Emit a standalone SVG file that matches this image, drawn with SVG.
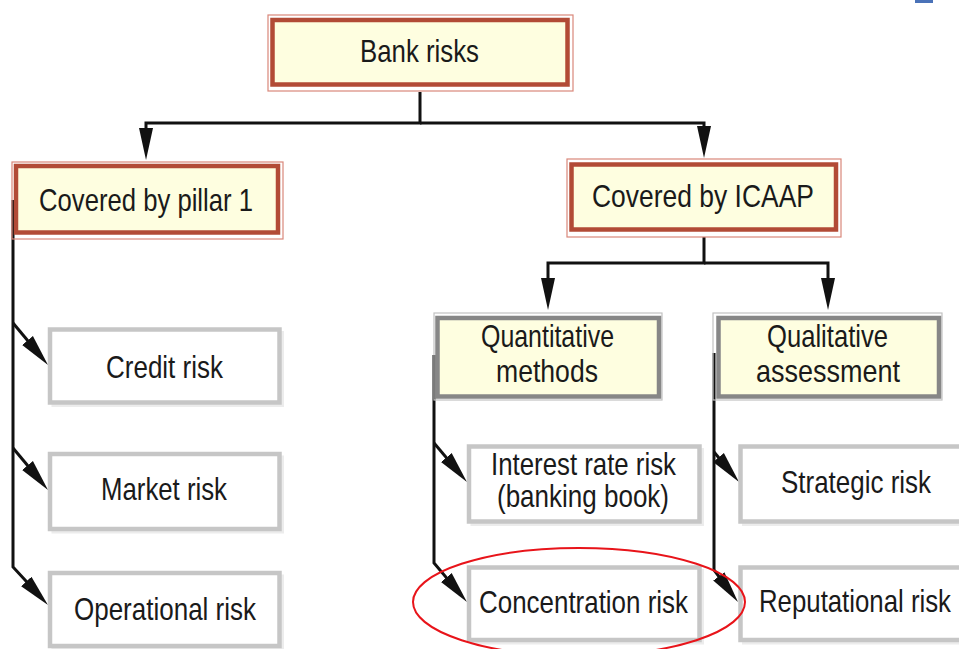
<svg xmlns="http://www.w3.org/2000/svg" width="959" height="649" viewBox="0 0 959 649">
  <style>
    .lbl { font-family: "Liberation Sans", Arial, Helvetica, sans-serif; font-size: 32px; fill: #1a1a1a; }
    .outer-red { fill: none; stroke: #d9877a; stroke-width: 1.2; }
    .inner-red { fill: #fefee0; stroke: #b24b36; stroke-width: 4.5; }
    .outer-gray { fill: none; stroke: #c2c2c2; stroke-width: 1.2; }
    .inner-gray { fill: #fefee0; stroke: #878787; stroke-width: 4.5; }
    .leaf { fill: #ffffff; stroke: #c6c6c6; stroke-width: 4.5; }
    .leaf-shadow { fill: none; stroke: #ececec; stroke-width: 3; }
    .conn { fill: none; stroke: #111111; stroke-width: 3; marker-end: url(#arrow); }
    .plain { fill: none; stroke: #111111; stroke-width: 3; }
  </style>
  <defs>
    <marker id="arrow" markerUnits="userSpaceOnUse" markerWidth="34" markerHeight="16" viewBox="0 -8 34 16" refX="22" refY="0" orient="auto">
      <path d="M0,-7 L32,0 L0,7 z" fill="#111111"/>
    </marker>
  </defs>

  <rect x="0" y="0" width="959" height="649" fill="#ffffff"/>
  <rect x="915" y="0" width="18" height="3" fill="#4a72b8"/>

  <!-- connectors -->
  <g id="connectors">
    <path class="conn" d="M420,92 V123 H146 V150"/>
    <path class="conn" d="M420,123 H704 V148"/>
    <path class="conn" d="M704,237 V263 H548 V300"/>
    <path class="conn" d="M704,263 H828 V300"/>

    <path class="conn" d="M13,200 V567 L41.2,597.6"/>
    <path class="conn" d="M13,323 L41.6,357.3"/>
    <path class="conn" d="M13,448 L41.6,482.3"/>

    <path class="conn" d="M434,355 V563 L460.5,594.4"/>
    <path class="conn" d="M434,443 L460.5,474.4"/>

    <path class="conn" d="M714,353 V570 L732,594"/>
    <path class="conn" d="M714,452 L732.6,474.3"/>
  </g>

  <g id="bank-risks">
    <rect class="outer-red" x="268" y="15" width="305" height="76"/>
    <rect class="inner-red" x="272.5" y="20" width="295" height="64.5"/>
    <text class="lbl" x="360" y="62" textLength="119" lengthAdjust="spacingAndGlyphs">Bank risks</text>
  </g>

  <g id="pillar1">
    <rect class="outer-red" x="12" y="162" width="271" height="77"/>
    <rect class="inner-red" x="16" y="166" width="262" height="66.5"/>
    <text class="lbl" x="39" y="211" textLength="214" lengthAdjust="spacingAndGlyphs">Covered by pillar 1</text>
  </g>

  <g id="icaap">
    <rect class="outer-red" x="567" y="159" width="274" height="78"/>
    <rect class="inner-red" x="571.5" y="164.5" width="264.5" height="65"/>
    <text class="lbl" x="592" y="207" textLength="222" lengthAdjust="spacingAndGlyphs">Covered by ICAAP</text>
  </g>

  <g id="quantitative">
    <rect class="outer-gray" x="434" y="313" width="228" height="87"/>
    <rect class="inner-gray" x="437.5" y="318" width="221.5" height="78.5"/>
    <text class="lbl" x="481" y="347" textLength="133" lengthAdjust="spacingAndGlyphs">Quantitative</text>
    <text class="lbl" x="496" y="382" textLength="102" lengthAdjust="spacingAndGlyphs">methods</text>
  </g>

  <g id="qualitative">
    <rect class="outer-gray" x="713" y="313" width="229" height="87"/>
    <rect class="inner-gray" x="718.5" y="318" width="220.5" height="78.5"/>
    <text class="lbl" x="767" y="347" textLength="121" lengthAdjust="spacingAndGlyphs">Qualitative</text>
    <text class="lbl" x="756" y="382" textLength="144" lengthAdjust="spacingAndGlyphs">assessment</text>
  </g>

  <g id="credit-risk">
    <rect class="leaf-shadow" x="53" y="332.5" width="229.5" height="73"/>
    <rect class="leaf" x="50" y="329.5" width="229.5" height="73"/>
    <text class="lbl" x="106" y="378" textLength="117" lengthAdjust="spacingAndGlyphs">Credit risk</text>
  </g>

  <g id="market-risk">
    <rect class="leaf-shadow" x="53" y="457" width="229.5" height="75"/>
    <rect class="leaf" x="50" y="454" width="229.5" height="75"/>
    <text class="lbl" x="101" y="500" textLength="126" lengthAdjust="spacingAndGlyphs">Market risk</text>
  </g>

  <g id="operational-risk">
    <rect class="leaf-shadow" x="53" y="576" width="229.5" height="73"/>
    <rect class="leaf" x="50" y="573" width="229.5" height="73"/>
    <text class="lbl" x="74" y="620" textLength="182" lengthAdjust="spacingAndGlyphs">Operational risk</text>
  </g>

  <g id="interest-rate-risk">
    <rect class="leaf-shadow" x="472" y="449.5" width="230.5" height="75"/>
    <rect class="leaf" x="469" y="446.5" width="230.5" height="75"/>
    <text class="lbl" x="491" y="475" textLength="185" lengthAdjust="spacingAndGlyphs">Interest rate risk</text>
    <text class="lbl" x="497" y="507" textLength="172" lengthAdjust="spacingAndGlyphs">(banking book)</text>
  </g>

  <g id="concentration-risk">
    <rect class="leaf-shadow" x="472" y="570.5" width="230.5" height="72.5"/>
    <rect class="leaf" x="469" y="567.5" width="230.5" height="72.5"/>
    <text class="lbl" x="479" y="613" textLength="209" lengthAdjust="spacingAndGlyphs">Concentration risk</text>
  </g>

  <g id="strategic-risk">
    <rect class="leaf-shadow" x="743.5" y="449.5" width="230.5" height="75"/>
    <rect class="leaf" x="740.5" y="446.5" width="230.5" height="75"/>
    <text class="lbl" x="781" y="493" textLength="150" lengthAdjust="spacingAndGlyphs">Strategic risk</text>
  </g>

  <g id="reputational-risk">
    <rect class="leaf-shadow" x="743.5" y="570.5" width="230.5" height="72.5"/>
    <rect class="leaf" x="740.5" y="567.5" width="230.5" height="72.5"/>
    <text class="lbl" x="759" y="612" textLength="192" lengthAdjust="spacingAndGlyphs">Reputational risk</text>
  </g>

  <!-- highlight around concentration risk -->
  <ellipse cx="579" cy="602" rx="166" ry="54" fill="none" stroke="#e8141a" stroke-width="2"/>
</svg>
